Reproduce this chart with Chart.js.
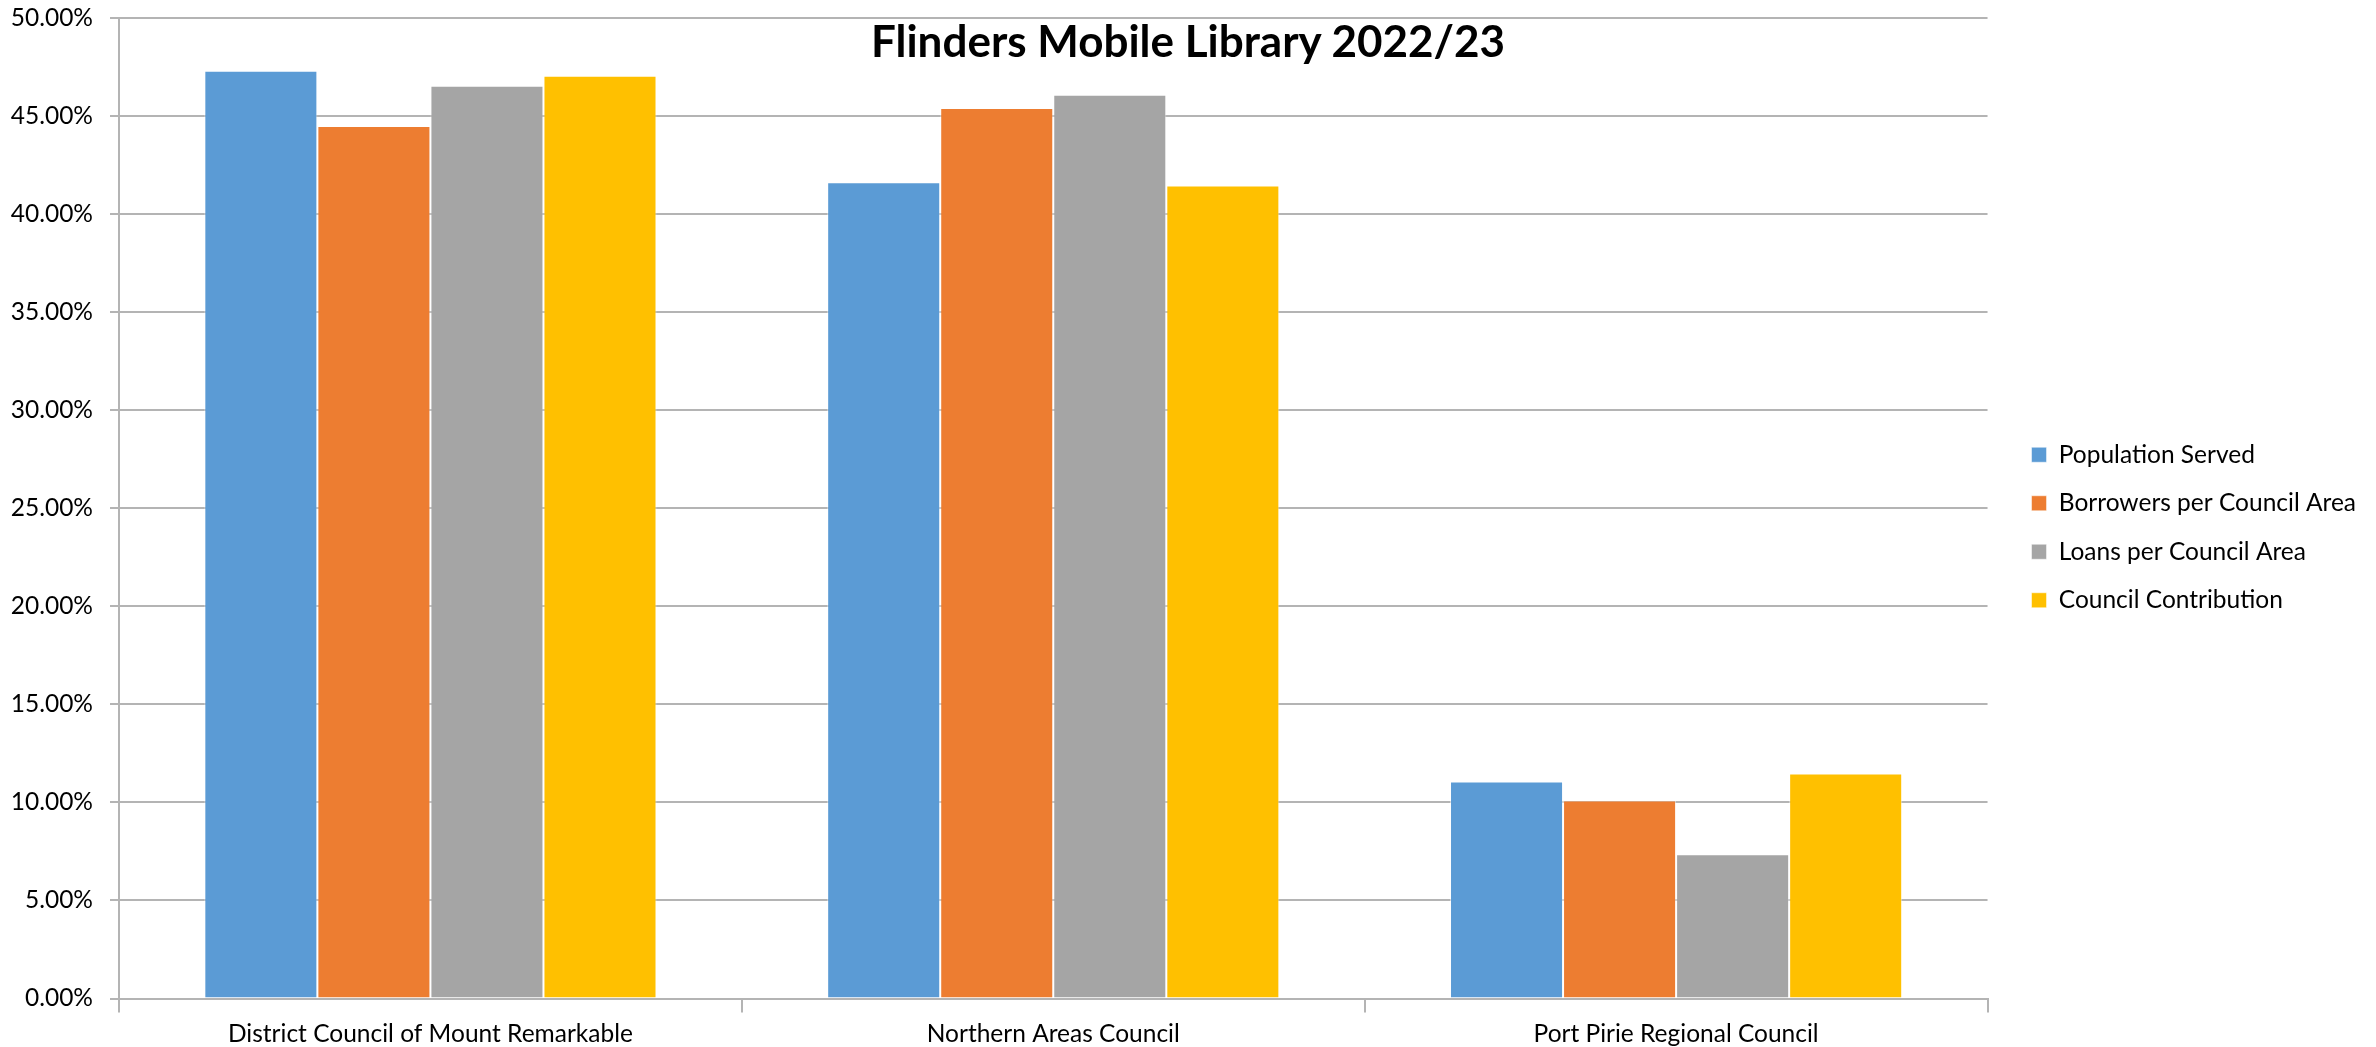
<!DOCTYPE html>
<html>
<head>
<meta charset="utf-8">
<script src="https://cdn.jsdelivr.net/npm/chart.js@4/dist/chart.umd.min.js"></script>
<style>
    html, body { margin: 0; padding: 0; background: #fff; }
    #wrap { position: relative; width: 2376px; height: 1047px; }
    #chart-title {
        position: absolute; left: 0; top: 14px; width: 2376px;
        text-align: center; font-family: Lato, 'Open Sans', sans-serif;
        font-weight: bold; font-size: 44px; color: #000; pointer-events: none;
    }
</style>
</head>
<body>
<div id="wrap">
    <canvas id="library-chart" width="2376" height="1047"></canvas>
    <div id="chart-title">Flinders Mobile Library 2022/23</div>
</div>
<script>
// Council areas (x categories)
const councils = ['District Council of Mount Remarkable', 'Northern Areas Council', 'Port Pirie Regional Council'];

// Series values, in percent
const populationServed = [47.31, 41.63, 11.06];
const borrowersPerArea = [44.49, 45.41, 10.10];
const loansPerArea = [46.55, 46.09, 7.36];
const councilContribution = [47.06, 41.46, 11.48];

// Y axis tick values
const yTicks = [0, 5, 10, 15, 20, 25, 30, 35, 40, 45, 50];

const FONT = "Lato, 'Open Sans', sans-serif";
const GRID = '#b4b4b4';

const series = [
    { name: 'Population Served', data: populationServed, color: '#5b9bd5' },
    { name: 'Borrowers per Council Area', data: borrowersPerArea, color: '#ed7d31' },
    { name: 'Loans per Council Area', data: loansPerArea, color: '#a5a5a5' },
    { name: 'Council Contribution', data: councilContribution, color: '#ffc000' }
];

const ctx = document.getElementById('library-chart');

new Chart(ctx, {
    type: 'bar',
    data: {
        labels: councils,
        datasets: series.map(s => ({
            label: s.name,
            data: s.data,
            backgroundColor: s.color,
            borderColor: 'rgba(255,255,255,0.5)',
            borderWidth: 1,
            categoryPercentage: 0.726,
            barPercentage: 1.0
        }))
    },
    options: {
        responsive: false,
        animation: false,
        layout: { padding: { top: 0, left: 0, right: 10, bottom: -8 } },
        plugins: {
            title: { display: false },
            tooltip: { enabled: false },
            legend: {
                position: 'right',
                labels: {
                    color: '#000',
                    font: { family: FONT, size: 24.5 },
                    boxWidth: 15,
                    boxHeight: 15,
                    padding: 24
                }
            }
        },
        scales: {
            x: {
                grid: {
                    offset: true,
                    drawOnChartArea: false,
                    drawTicks: true,
                    tickLength: 14,
                    color: GRID,
                    lineWidth: 2
                },
                border: { color: GRID, width: 2 },
                ticks: {
                    color: '#000',
                    font: { family: FONT, size: 24.5, lineHeight: 1 },
                    padding: 9,
                    maxRotation: 0
                }
            },
            y: {
                min: 0,
                max: 50,
                afterBuildTicks: axis => { axis.ticks = yTicks.map(v => ({ value: v })); },
                afterFit: axis => { axis.width = 119; axis.paddingTop = 18; },
                grid: {
                    color: GRID,
                    lineWidth: 2,
                    tickLength: 9
                },
                border: { color: GRID, width: 2 },
                ticks: {
                    color: '#000',
                    font: { family: FONT, size: 24.5 },
                    padding: 17,
                    callback: v => v.toFixed(2) + '%'
                }
            },
            // spacer between plot and legend
            gap: {
                position: 'right',
                display: true,
                afterFit: axis => { axis.width = 20; },
                grid: { display: false },
                border: { display: false },
                ticks: { display: false }
            }
        }
    }
});
</script>
</body>
</html>
